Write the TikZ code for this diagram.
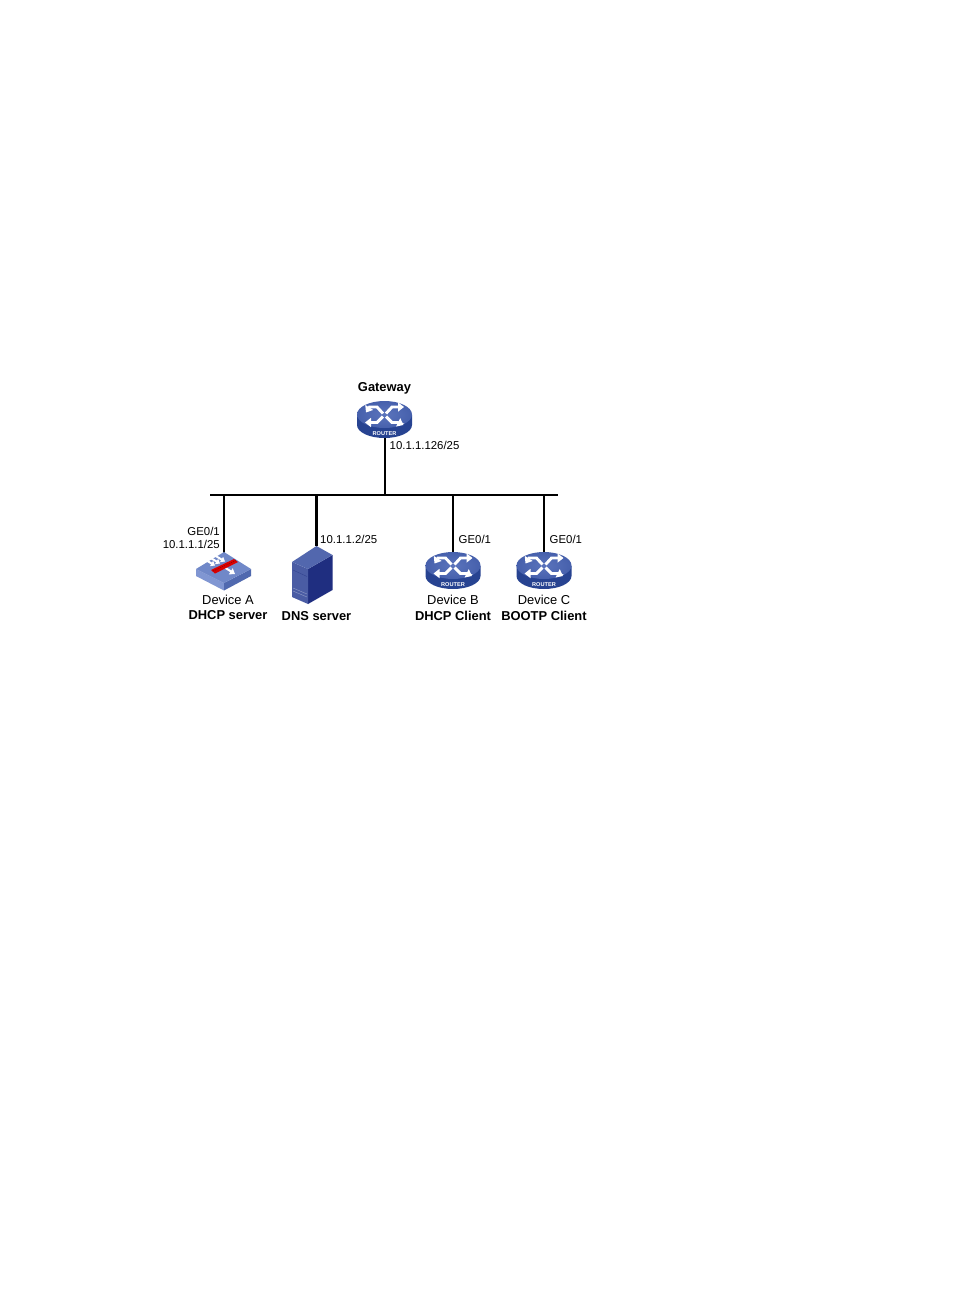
\documentclass[tikz,border=0pt]{standalone}
\usepackage{fontspec}
\setmainfont{Liberation Sans}
\usetikzlibrary{arrows.meta}
\definecolor{rtop}{HTML}{4660AC}
\definecolor{rtopl}{HTML}{5B74BC}
\definecolor{rside}{HTML}{274391}
\definecolor{fwtop}{HTML}{7088C8}
\definecolor{fwleft}{HTML}{8096D2}
\definecolor{fwright}{HTML}{5069AF}
\definecolor{srvfront}{HTML}{1F2E80}
\definecolor{srvleft}{HTML}{4A5CA4}
\definecolor{srvtop}{HTML}{5267AE}
\tikzset{
  x=1pt,y=-1pt,
  lbl/.style={inner sep=0pt,font=\fontsize{11.4pt}{13pt}\selectfont},
  dlbl/.style={inner sep=0pt,font=\fontsize{12.9pt}{14pt}\selectfont},
  blbl/.style={inner sep=0pt,font=\fontsize{12.9pt}{14pt}\selectfont\bfseries},
  link/.style={line width=1.8pt,black},
  dev/.style={inner sep=0pt,minimum width=54pt,minimum height=36pt},
  srv/.style={inner sep=0pt,minimum width=42pt,minimum height=58pt},
  swarrow/.style={white,line width=2.9pt,-{Triangle[length=6pt,width=9pt]}},
  router/.pic={
    % body, then the top face
    \fill[rside] (-27.5,0) -- (-27.5,10) arc[start angle=180,end angle=0,x radius=27.5,y radius=13] -- (27.5,0) -- cycle;
    \shade[inner color=rtopl,outer color=rtop] (0,-0.5) ellipse[x radius=27.5,y radius=13.5];
    % four crossing arrows around a small central gap
    \draw[swarrow] (-1.5,-1.5) -- (-7.5,-8) -- (-15,-8) -- (-18.5,-2.5);
    \draw[swarrow] (1.5,-1.5) -- (7.5,-8) -- (19.5,-8);
    \draw[swarrow] (-1.5,1.5) -- (-7.5,7.5) -- (-19.5,7.5);
    \draw[swarrow] (1.5,1.5) -- (7.5,7.5) -- (14,7.5) -- (19,10);
    \node[inner sep=0pt,white,font=\fontsize{5.6pt}{6pt}\selectfont\bfseries] at (0,18.6) {ROUTER};
  }
}
\begin{document}
\begin{tikzpicture}
\useasboundingbox (0,0) rectangle (954,1294);
\fill[white] (0,0) rectangle (954,1294);

% Shared segment
\coordinate (busL) at (210,495);
\coordinate (busR) at (558,495);
\draw[link] (busL) -- (busR);

% Device anchors (icons are drawn on top of the links)
\node[dev] (gw) at (385,420) {};
\node[dev] (da) at (224,571) {};
\node[srv] (dns) at (316.5,575) {};
\node[dev] (db) at (453,571) {};
\node[dev] (dc) at (544,571) {};
\coordinate (tapGw) at (gw |- busL);
\coordinate (tapA) at (da |- busL);
\coordinate (tapDns) at (dns |- busL);
\coordinate (tapB) at (db |- busL);
\coordinate (tapC) at (dc |- busL);

\draw[link] (gw) -- (tapGw);
\draw[link] (da) -- (tapA);
\draw[link,line width=2.6pt] (dns) -- (tapDns);
\draw[link] (db) -- (tapB);
\draw[link] (dc) -- (tapC);

% Routers
\pic at (384.5,415) {router};
\pic at (453,566) {router};
\pic at (544,566) {router};

% Layer-3 switch: raised diamond with a red bar
\fill[fwleft] (196,569) -- (224,583) -- (224,590.5) -- (196,576) -- cycle;
\fill[fwright] (251,569) -- (224,583) -- (224,590.5) -- (251,576) -- cycle;
\fill[fwtop] (224,552) -- (251,569) -- (224,583) -- (196,569) -- cycle;
\foreach \ax/\ay in {204/559, 209/557, 214/555}
  \draw[white,line width=2pt,-{Triangle[length=4pt,width=6pt]}] (\ax,\ay) -- ++(11,6.5);
\draw[white,line width=2pt,-{Triangle[length=5pt,width=7pt]}] (224,567) -- (235,574);
\fill[red!85!black] (211,570) -- (234,559) -- (238,562) -- (215,573.5) -- cycle;
\draw[red!50!black,line width=0.5pt,dash pattern=on 1pt off 1pt] (213,571) -- (236,560.5);

% Tower server
\fill[srvfront] (308,569) -- (332.5,555) -- (332.5,590) -- (308,604) -- cycle;
\fill[srvleft] (292,562) -- (308,569) -- (308,604) -- (292,597) -- cycle;
\fill[srvtop] (292,562) -- (316.5,546) -- (332.5,555) -- (308,569) -- cycle;
\draw[srvfront!55!srvleft,line width=0.4pt] (293,570) -- (307,576.5);
\draw[srvleft!60!white,line width=0.4pt] (293,588) -- (307,594);
\draw[srvleft!60!white,line width=0.4pt] (293,591) -- (307,597);

% Labels
\node[blbl] (tGw) at (384.5,388) {Gateway};
\node[lbl,anchor=west] (tGwIp) at (389.5,445.5) {10.1.1.126/25};
\node[lbl,anchor=east] (tAPort) at (220,531.5) {GE0/1};
\node[lbl,anchor=east] (tAIp) at (220,544.5) {10.1.1.1/25};
\node[lbl,anchor=west] (tDnsIp) at (320,539.5) {10.1.1.2/25};
\node[lbl,anchor=west] (tBPort) at (458.5,539.5) {GE0/1};
\node[lbl,anchor=west] (tCPort) at (549.5,539.5) {GE0/1};
\node[dlbl] (tA) at (228,600) {Device A};
\node[blbl] (tAr) at (228,615.5) {DHCP server};
\node[blbl] (tDns) at (316.5,616.5) {DNS server};
\node[dlbl] (tB) at (453,600) {Device B};
\node[blbl] (tBr) at (453,615.5) {DHCP Client};
\node[dlbl] (tC) at (544,600) {Device C};
\node[blbl] (tCr) at (544,615.5) {BOOTP Client};
\end{tikzpicture}
\end{document}
